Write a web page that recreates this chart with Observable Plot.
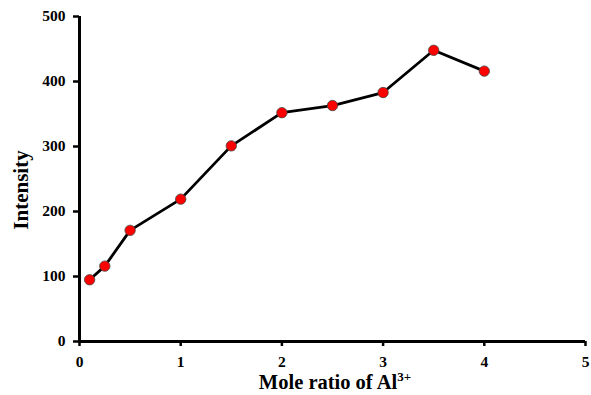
<!DOCTYPE html>
<html>
<head>
<meta charset="utf-8">
<script src="https://cdn.jsdelivr.net/npm/d3@7"></script>
<script src="https://cdn.jsdelivr.net/npm/@observablehq/plot@0.6"></script>
<style>
  html, body { margin: 0; padding: 0; background: #fff; }
  #chart svg { display: block; }
  #chart svg text { font-family: "Liberation Serif", "Times New Roman", serif; font-weight: bold; }
  #chart svg g[aria-label$="tick label"] { font-size: 15.5px; font-family: "Liberation Serif", serif; font-weight: bold; }
</style>
</head>
<body>
<div id="chart"></div>
<script>
// Fluorescence intensity versus mole ratio of Al3+
const moleRatio = [0.1, 0.25, 0.5, 1, 1.5, 2, 2.5, 3, 3.5, 4];
const intensity = [95, 116, 171, 219, 301, 352, 363, 383, 448, 416];
const xTicks = [0, 1, 2, 3, 4, 5];
const yTicks = [0, 100, 200, 300, 400, 500];

const data = moleRatio.map((r, i) => ({ratio: r, value: intensity[i]}));

const font = "Liberation Serif, Times New Roman, serif";

const chart = Plot.plot({
  width: 591,
  height: 395,
  marginLeft: 79,
  marginRight: 6,
  marginTop: 16,
  marginBottom: 54,
  style: {fontFamily: font, fontWeight: "bold", fontSize: "15px", color: "#000", background: "#fff"},
  x: {domain: [0, 5]},
  y: {domain: [0, 500]},
  marks: [
    Plot.axisX({ticks: xTicks, tickSize: 5, tickPadding: 9, strokeWidth: 2.5, label: null, fontSize: 15, tickFormat: d => d}),
    Plot.axisY({ticks: yTicks, tickSize: 6, tickPadding: 8, strokeWidth: 2.5, label: null, fontSize: 15, tickFormat: d => d}),
    Plot.ruleX([0], {stroke: "#000", strokeWidth: 3}),
    Plot.ruleY([0], {stroke: "#000", strokeWidth: 3}),
    Plot.line(data, {x: "ratio", y: "value", stroke: "#000", strokeWidth: 2.8}),
    Plot.dot(data, {x: "ratio", y: "value", r: 5.2, fill: "#ff0000", stroke: "#444", strokeWidth: 0.8})
  ]
});

// Axis titles, with a superscripted charge on Al
const svg = d3.select(chart);
const xTitle = svg.append("text")
  .attr("x", 335).attr("y", 389)
  .attr("text-anchor", "middle")
  .attr("font-size", 20.5)
  .attr("fill", "#000");
xTitle.append("tspan").text("Mole ratio of Al");
xTitle.append("tspan").attr("dy", -8).attr("font-size", 13).text("3+");

svg.append("text")
  .attr("transform", "translate(28,190) rotate(-90)")
  .attr("text-anchor", "middle")
  .attr("font-size", 21)
  .attr("fill", "#000")
  .text("Intensity");

document.getElementById("chart").appendChild(chart);
</script>
</body>
</html>
